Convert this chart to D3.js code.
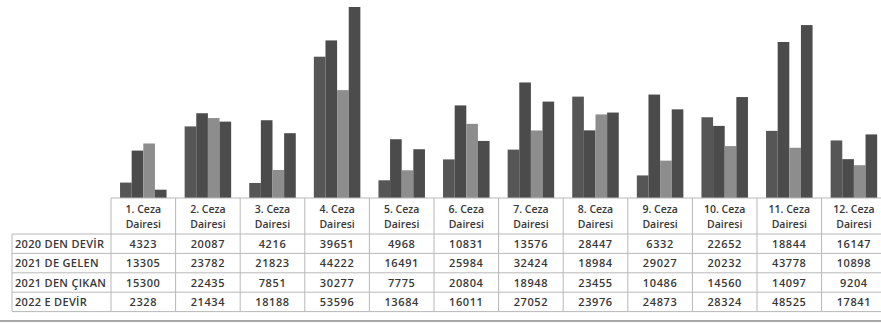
<!DOCTYPE html>
<html>
<head>
<meta charset="utf-8">
<script src="https://cdn.jsdelivr.net/npm/d3@7/dist/d3.min.js"></script>
<style>
  html, body { margin: 0; padding: 0; background: #fff; }
  svg { display: block; }
  text { font-family: "Open Sans", "DejaVu Sans", sans-serif; fill: #383838; }
</style>
</head>
<body>
<svg id="chart" width="881" height="324"></svg>
<script>
// Chambers (columns of the table)
const categories = ["1. Ceza Dairesi", "2. Ceza Dairesi", "3. Ceza Dairesi", "4. Ceza Dairesi",
  "5. Ceza Dairesi", "6. Ceza Dairesi", "7. Ceza Dairesi", "8. Ceza Dairesi",
  "9. Ceza Dairesi", "10. Ceza Dairesi", "11. Ceza Dairesi", "12. Ceza Dairesi"];

// Series names (rows of the table)
const seriesNames = ["2020 DEN DEVİR", "2021 DE GELEN", "2021 DEN ÇIKAN", "2022 E DEVİR"];

const devir2020 = [4323, 20087, 4216, 39651, 4968, 10831, 13576, 28447, 6332, 22652, 18844, 16147];
const gelen2021 = [13305, 23782, 21823, 44222, 16491, 25984, 32424, 18984, 29027, 20232, 43778, 10898];
const cikan2021 = [15300, 22435, 7851, 30277, 7775, 20804, 18948, 23455, 10486, 14560, 14097, 9204];
const devir2022 = [2328, 21434, 18188, 53596, 13684, 16011, 27052, 23976, 24873, 28324, 48525, 17841];

const seriesValues = [devir2020, gelen2021, cikan2021, devir2022];
const seriesColors = ["#565656", "#4b4b4b", "#8d8d8d", "#4c4c4c"];

const svg = d3.select("#chart");

// Geometry of the data table under the bars
const tableLeft = 12, colStart = 111, colWidth = 64.6;
const baseY = 198, headerBottom = 234, rowH = 19.4;
const colEnd = colStart + colWidth * categories.length;

// Scales
const x0 = d3.scaleBand().domain(categories).range([colStart, colEnd])
  .paddingInner(0.28).paddingOuter(0.14);
const x1 = d3.scaleBand().domain(d3.range(seriesNames.length)).range([0, x0.bandwidth()]).padding(0);
const y = d3.scaleLinear().domain([0, 55000]).range([baseY, 2]);

// Bars
const groups = svg.append("g").selectAll("g")
  .data(categories)
  .join("g")
  .attr("transform", d => `translate(${x0(d)},0)`);

groups.selectAll("rect")
  .data((d, i) => seriesValues.map((vals, s) => ({ s, v: vals[i] })))
  .join("rect")
  .attr("x", d => x1(d.s))
  .attr("width", x1.bandwidth())
  .attr("y", d => y(d.v))
  .attr("height", d => y(0) - y(d.v))
  .attr("fill", d => seriesColors[d.s]);

// Table
const grid = svg.append("g").attr("stroke", "#b8b8b8").attr("stroke-width", 1).attr("fill", "none");
const colX = d3.range(categories.length + 1).map(i => colStart + i * colWidth);
const rowY = d3.range(seriesNames.length + 1).map(i => headerBottom + i * rowH);

// horizontal lines: header top over the category columns, row lines across the full table
grid.append("line").attr("x1", colStart).attr("x2", colEnd).attr("y1", baseY).attr("y2", baseY);
rowY.forEach(yy => grid.append("line").attr("x1", tableLeft).attr("x2", colEnd).attr("y1", yy).attr("y2", yy));
// vertical lines
colX.forEach(xx => grid.append("line").attr("x1", xx).attr("x2", xx).attr("y1", baseY).attr("y2", rowY[rowY.length - 1]));
grid.append("line").attr("x1", tableLeft).attr("x2", tableLeft).attr("y1", headerBottom).attr("y2", rowY[rowY.length - 1]);

// bottom rule
svg.append("line").attr("x1", 0).attr("x2", 881).attr("y1", 321).attr("y2", 321)
  .attr("stroke", "#a8a8a8").attr("stroke-width", 2);

// Category headers (two lines)
const header = svg.append("g");
categories.forEach((c, i) => {
  const cx = colStart + (i + 0.5) * colWidth;
  const parts = c.split(" ");
  const t = header.append("text").attr("text-anchor", "middle").attr("font-size", 10.5).attr("font-weight", 600);
  t.append("tspan").attr("x", cx).attr("y", 213).text(parts[0] + " " + parts[1]);
  t.append("tspan").attr("x", cx).attr("y", 228).text(parts[2]);
});

// Row headers
seriesNames.forEach((n, s) => {
  svg.append("text").attr("x", tableLeft + 3).attr("y", rowY[s] + rowH / 2 + 4)
    .attr("font-size", 11).attr("font-weight", 600).attr("letter-spacing", 0.3).text(n);
});

// Values
seriesValues.forEach((vals, s) => {
  vals.forEach((v, i) => {
    svg.append("text").attr("x", colStart + (i + 0.5) * colWidth).attr("y", rowY[s] + rowH / 2 + 4)
      .attr("text-anchor", "middle").attr("font-size", 11).attr("font-weight", 600)
      .attr("letter-spacing", 0.6).text(v);
  });
});
</script>
</body>
</html>
